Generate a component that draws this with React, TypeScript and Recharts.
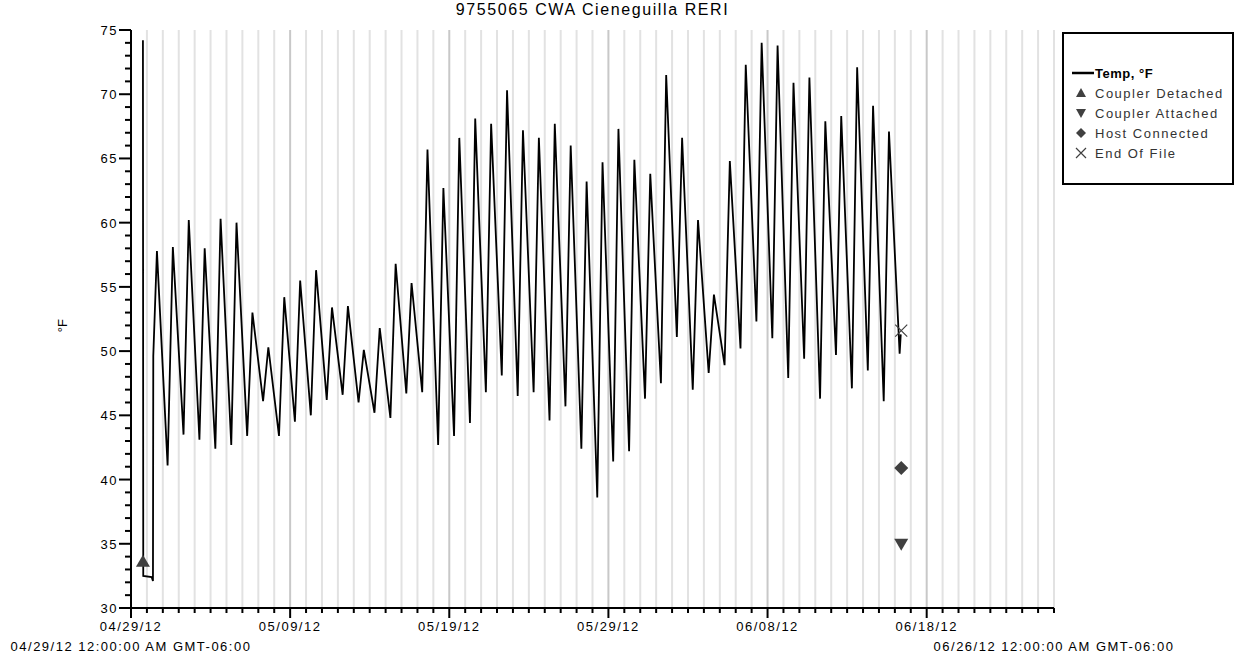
import React from 'react';
import { ComposedChart, Line, Scatter, XAxis, YAxis, CartesianGrid, Legend } from 'recharts';

const FONT = '"Liberation Sans", Arial, sans-serif';

// days since 04/29/12 00:00
const startTimes = [0.75, 0.77, 1.3, 1.38, 1.4];
const startTemps = [74.2, 32.5, 32.4, 32.1, 49.6];

// morning lows, from 05/01 (day 2) to 06/16 (day 48)
const FIRST_LOW_DAY = 2;
const dailyLows = [
  41.1, 43.5, 43.1, 42.4, 42.7, 43.4, 46.1, 43.4, 44.5, 45.0,
  46.2, 46.6, 46.0, 45.2, 44.8, 46.7, 46.8, 42.7, 43.4, 44.4,
  46.8, 48.1, 46.5, 46.8, 44.6, 45.7, 42.4, 38.6, 41.4, 42.2,
  46.3, 47.5, 51.1, 47.0, 48.3, 48.9, 50.2, 52.3, 51.0, 47.9,
  49.4, 46.3, 49.7, 47.1, 48.5, 46.1, 49.8,
];

// afternoon highs, from 04/30 (day 1) to 06/15 (day 47)
const FIRST_HIGH_DAY = 1;
const dailyHighs = [
  57.8, 58.1, 60.2, 58.0, 60.3, 60.0, 53.0, 50.3, 54.2, 55.5,
  56.3, 53.4, 53.5, 50.1, 51.8, 56.8, 55.3, 65.7, 62.7, 66.6,
  68.1, 67.7, 70.3, 67.2, 66.6, 67.7, 66.0, 63.2, 64.7, 67.3,
  64.9, 63.8, 71.5, 66.6, 60.2, 54.4, 64.8, 72.3, 74.0, 73.8,
  70.9, 71.3, 67.9, 68.3, 72.1, 69.1, 67.1,
];
const LOW_TIME = 0.3;
const HIGH_TIME = 0.63;

const endTimes = [48.37];
const endTemps = [51.3];

const detachedPts = [{ t: 0.75, v: 33.6 }];
const attachedPts = [{ t: 48.4, v: 35.0 }];
const hostPts = [{ t: 48.4, v: 40.9 }];
const eofPts = [{ t: 48.4, v: 51.6 }];

const xDays = Array.from({ length: 59 }, (_, i) => i);
const xLabelDays = [0, 10, 20, 30, 40, 50];
const xLabels = ['04/29/12', '05/09/12', '05/19/12', '05/29/12', '06/08/12', '06/18/12'];
const startStamp = '04/29/12 12:00:00 AM GMT-06:00';
const endStamp = '06/26/12 12:00:00 AM GMT-06:00';
const yTicks = Array.from({ length: 46 }, (_, i) => 30 + i);

const tempData = [
  ...startTimes.map((t, i) => ({ t, temp: startTemps[i] })),
  ...dailyLows.map((v, i) => ({ t: FIRST_LOW_DAY + i + LOW_TIME, temp: v })),
  ...dailyHighs.map((v, i) => ({ t: FIRST_HIGH_DAY + i + HIGH_TIME, temp: v })),
  ...endTimes.map((t, i) => ({ t, temp: endTemps[i] })),
].sort((a, b) => a.t - b.t);

const MARK = '#404040';
const txt = { fontFamily: FONT, fontSize: 13, letterSpacing: 1.5, fill: '#000' } as const;

const triUp = (p: any) => (
  <path d={`M${p.cx},${p.cy - 7} L${p.cx + 7},${p.cy + 5} L${p.cx - 7},${p.cy + 5} Z`} fill={MARK} />
);
const triDown = (p: any) => (
  <path d={`M${p.cx - 7},${p.cy - 5} L${p.cx + 7},${p.cy - 5} L${p.cx},${p.cy + 7} Z`} fill={MARK} />
);
const diamond = (p: any) => (
  <path d={`M${p.cx},${p.cy - 7} L${p.cx + 7},${p.cy} L${p.cx},${p.cy + 7} L${p.cx - 7},${p.cy} Z`} fill={MARK} />
);
const cross = (p: any) => (
  <path d={`M${p.cx - 6},${p.cy - 6} L${p.cx + 6},${p.cy + 6} M${p.cx + 6},${p.cy - 6} L${p.cx - 6},${p.cy + 6}`} stroke={MARK} strokeWidth={1.2} fill="none" />
);

const XTick = (props: any) => {
  const { x, y, payload } = props;
  const d = payload.value;
  const major = d % 10 === 0;
  const li = xLabelDays.indexOf(d);
  return (
    <g>
      <line x1={x} x2={x} y1={y} y2={y + (major ? 10 : 5)} stroke="#000" strokeWidth={2} />
      {li >= 0 && (
        <text x={x} y={y + 23} textAnchor="middle" {...txt}>{xLabels[li]}</text>
      )}
      {d === 0 && <text x={x} y={y + 43} textAnchor="middle" {...txt}>{startStamp}</text>}
      {d === 58 && <text x={x} y={y + 43} textAnchor="middle" {...txt}>{endStamp}</text>}
    </g>
  );
};

const YTick = (props: any) => {
  const { x, y, payload } = props;
  const v = Number(payload.value);
  const major = Math.round(v) % 5 === 0;
  return (
    <g>
      <path d={`M${x - (major ? 12 : 6)},${y} H${x}`} stroke="#000" strokeWidth={2} />
      {major && (
        <text x={x - 13} y={y + 5} textAnchor="end" {...txt}>{v}</text>
      )}
    </g>
  );
};

const gridLine = (p: any) => (
  <line
    key={p.key}
    x1={p.x1} x2={p.x2} y1={p.y1} y2={p.y2}
    stroke={p.index % 10 === 0 ? '#c8c8c8' : '#e2e2e2'}
    strokeWidth={2}
  />
);

const legendItems = [
  { label: 'Temp, °F', kind: 'line' },
  { label: 'Coupler Detached', kind: 'up' },
  { label: 'Coupler Attached', kind: 'down' },
  { label: 'Host Connected', kind: 'diamond' },
  { label: 'End Of File', kind: 'cross' },
];

const LegendBox = () => (
  <svg width={172} height={153} style={{ display: 'block' }}>
    <rect x={1} y={1} width={170} height={151} fill="#fff" stroke="#000" strokeWidth={2} />
    {legendItems.map((it, i) => {
      const cy = 41 + i * 20;
      const cx = 19;
      let sym: React.ReactNode = null;
      if (it.kind === 'line') sym = <line x1={10} x2={32} y1={cy} y2={cy} stroke="#000" strokeWidth={2.5} />;
      if (it.kind === 'up') sym = <path d={`M${cx},${cy - 5} L${cx + 5},${cy + 4} L${cx - 5},${cy + 4} Z`} fill={MARK} />;
      if (it.kind === 'down') sym = <path d={`M${cx - 5},${cy - 4} L${cx + 5},${cy - 4} L${cx},${cy + 5} Z`} fill={MARK} />;
      if (it.kind === 'diamond') sym = <path d={`M${cx},${cy - 5} L${cx + 5},${cy} L${cx},${cy + 5} L${cx - 5},${cy} Z`} fill={MARK} />;
      if (it.kind === 'cross') sym = <path d={`M${cx - 5},${cy - 5} L${cx + 5},${cy + 5} M${cx + 5},${cy - 5} L${cx - 5},${cy + 5}`} stroke={MARK} strokeWidth={1.2} />;
      return (
        <g key={it.label}>
          {sym}
          <text x={33} y={cy + 5} {...txt} fill={i === 0 ? '#000' : '#333'} fontWeight={i === 0 ? 'bold' : 'normal'} letterSpacing={i === 0 ? 0.5 : 1.5}>
            {it.label}
          </text>
        </g>
      );
    })}
  </svg>
);

export default function App() {
  return (
    <div style={{ position: 'absolute', left: 0, top: 0, width: 1241, height: 659, background: '#fff' }}>
      <div
        style={{
          position: 'absolute', left: 131, width: 923, top: 1, textAlign: 'center',
          fontFamily: FONT, fontSize: 16, letterSpacing: 1.6, color: '#000',
        }}
      >
        9755065 CWA Cieneguilla RERI
      </div>
      <ComposedChart
        width={1241}
        height={659}
        data={tempData}
        margin={{ top: 30, right: 187, bottom: 11, left: 71 }}
      >
        <CartesianGrid horizontal={false} vertical={gridLine} />
        <XAxis
          type="number"
          dataKey="t"
          domain={[0, 58]}
          ticks={xDays}
          interval={0}
          tickSize={0}
          tickMargin={0}
          tick={XTick}
          height={40}
          axisLine={{ stroke: '#000', strokeWidth: 2 }}
          allowDataOverflow
        />
        <YAxis
          type="number"
          domain={[30, 75]}
          ticks={yTicks}
          interval={0}
          tickSize={0}
          tickMargin={0}
          tick={YTick}
          width={60}
          axisLine={{ stroke: '#000', strokeWidth: 2 }}
          allowDataOverflow
          label={{ value: '°F', angle: -90, position: 'left', offset: 9, fill: '#000', style: { ...txt, letterSpacing: 0 } }}
        />
        <Line
          type="linear"
          dataKey="temp"
          stroke="#000"
          strokeWidth={1.8}
          dot={false}
          isAnimationActive={false}
        />
        <Scatter data={detachedPts} dataKey="v" shape={triUp} isAnimationActive={false} />
        <Scatter data={attachedPts} dataKey="v" shape={triDown} isAnimationActive={false} />
        <Scatter data={hostPts} dataKey="v" shape={diamond} isAnimationActive={false} />
        <Scatter data={eofPts} dataKey="v" shape={cross} isAnimationActive={false} />
        <Legend
          layout="horizontal"
          align="center"
          verticalAlign="middle"
          content={LegendBox}
          wrapperStyle={{ position: 'absolute', left: 1062, top: 32, width: 172, height: 153 }}
        />
      </ComposedChart>
    </div>
  );
}
